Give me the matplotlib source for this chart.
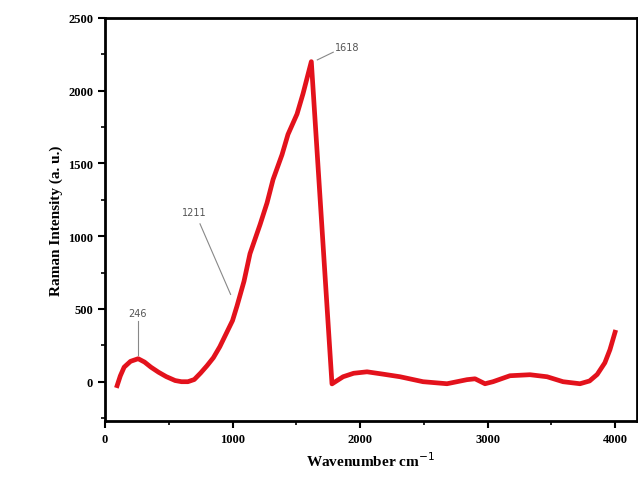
import matplotlib.pyplot as plt
from matplotlib.ticker import MultipleLocator

# Raman spectrum
wavenumber = [95, 120, 150, 200, 260, 310, 360, 420, 480, 550, 600, 650, 700, 750,
              800, 850, 900, 950, 1000, 1035, 1090, 1137, 1216, 1271, 1318, 1388,
              1435, 1506, 1553, 1618,
              1780, 1867, 1950, 2055, 2180, 2314, 2494, 2682, 2839, 2902, 2980, 3043,
              3176, 3333, 3467, 3592, 3725, 3800, 3860, 3920, 3960, 4000]
intensity = [-27, 40, 100, 140, 158, 135, 100, 65, 35, 8, 0, 0, 15, 60,
             110, 165, 240, 330, 420, 520, 690, 880, 1080, 1230, 1390, 1560,
             1700, 1840, 1980, 2200,
             -15, 34, 58, 68, 52, 34, 0, -14, 14, 20, -14, 0,
             41, 48, 34, 0, -14, 5, 50, 130, 220, 340]

# peak labels: (text, text position, line start, line end)
peak_labels = ["246", "1211", "1618"]
peak_text_xy = [(255, 470), (700, 1165), (1900, 2300)]
peak_line = [((255, 420), (255, 185)), ((745, 1085), (985, 600)), ((1790, 2265), (1665, 2212))]

fig = plt.figure(figsize=(6.38, 4.81), dpi=100)
ax = fig.add_axes([0.1646, 0.1227, 0.8334, 0.8378])

ax.plot(wavenumber, intensity, color='#e3121c', linewidth=3.4)

for lab, txy, (p0, p1) in zip(peak_labels, peak_text_xy, peak_line):
    ax.text(txy[0], txy[1], lab, fontsize=7, color='#555555', ha='center', va='center')
    ax.plot([p0[0], p1[0]], [p0[1], p1[1]], color='#888888', linewidth=0.8)

ax.set_xlim(0, 4170)
ax.set_ylim(-270, 2500)
ax.xaxis.set_major_locator(MultipleLocator(1000))
ax.xaxis.set_minor_locator(MultipleLocator(500))
ax.yaxis.set_major_locator(MultipleLocator(500))
ax.yaxis.set_minor_locator(MultipleLocator(250))

for s in ax.spines.values():
    s.set_linewidth(2)
ax.tick_params(which='major', direction='out', length=5, width=1.5, labelsize=9)
ax.tick_params(which='minor', direction='out', length=3, width=1.2)
for lbl in ax.get_xticklabels() + ax.get_yticklabels():
    lbl.set_fontfamily('Liberation Serif')
    lbl.set_fontweight('bold')

ax.set_xlabel('Wavenumber cm$^{-1}$', fontsize=11, fontweight='bold', family='Liberation Serif')
ax.set_ylabel('Raman Intensity (a. u.)', fontsize=11, fontweight='bold', family='Liberation Serif')

fig.savefig('out.png', dpi=100)
